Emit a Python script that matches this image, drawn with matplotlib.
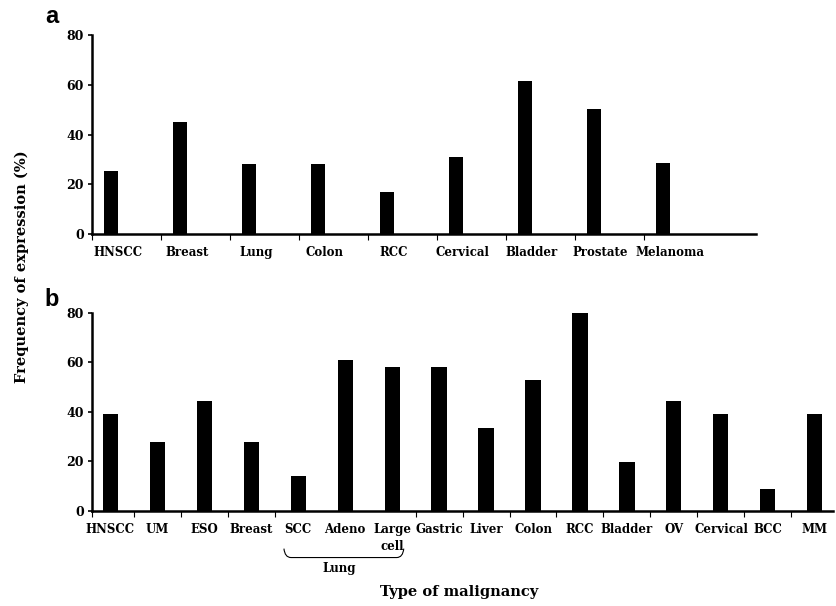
import matplotlib
matplotlib.use('Agg')
import matplotlib.pyplot as plt
import matplotlib.transforms as mtransforms
from matplotlib.path import Path
from matplotlib.patches import PathPatch

# panel a
cats_a = ['HNSCC', 'Breast', 'Lung', 'Colon', 'RCC', 'Cervical', 'Bladder', 'Prostate', 'Melanoma']
vals_a = [25.5, 45, 28.3, 28.3, 17, 31, 61.5, 50.5, 28.5]

# panel b
cats_b = ['HNSCC', 'UM', 'ESO', 'Breast', 'SCC', 'Adeno', 'Large\ncell', 'Gastric', 'Liver',
          'Colon', 'RCC', 'Bladder', 'OV', 'Cervical', 'BCC', 'MM']
vals_b = [39, 28, 44.5, 28, 14, 61, 58.3, 58.3, 33.5, 52.8, 80.5, 19.6, 44.6, 39, 9, 39]
lung_group = ['SCC', 'Adeno', 'Large\ncell']

yticks = [0, 20, 40, 60, 80]
serif = 'DejaVu Serif'

fig = plt.figure(figsize=(8.37, 6.06), dpi=100)


def style_axes(ax):
    ax.spines['top'].set_visible(False)
    ax.spines['right'].set_visible(False)
    ax.spines['left'].set_linewidth(1.8)
    ax.spines['bottom'].set_linewidth(1.8)
    ax.set_ylim(0, 80)
    ax.set_yticks(yticks)
    ax.set_yticklabels([str(t) for t in yticks], fontfamily=serif, fontweight='bold', fontsize=9)
    ax.tick_params(axis='y', length=3, width=1.2, pad=3)
    ax.tick_params(axis='x', which='major', length=4, width=0.8, pad=0)
    ax.tick_params(axis='x', which='minor', length=0, pad=9)


# ---- panel a ----
ax1 = fig.add_axes([0.110, 0.6139, 0.793, 0.328])
xa = list(range(len(cats_a)))
ax1.bar(xa, vals_a, width=0.2, color='black')
ax1.set_xlim(-0.275, 9.35)
style_axes(ax1)
ax1.set_xticks([i - 0.275 for i in xa])
ax1.set_xticklabels([])
ax1.set_xticks([i + 0.1 for i in xa], minor=True)
ax1.set_xticklabels(cats_a, minor=True, fontfamily=serif, fontweight='bold', fontsize=8.5)
fig.text(0.062, 0.972, 'a', fontsize=17, fontweight='bold', family='Liberation Sans',
         ha='center', va='center')

# ---- panel b ----
ax2 = fig.add_axes([0.110, 0.1568, 0.885, 0.327])
xb = list(range(len(cats_b)))
ax2.bar(xb, vals_b, width=0.32, color='black')
ax2.set_xlim(-0.383, 15.38)
style_axes(ax2)
lung_idx = [cats_b.index(c) for c in lung_group]
bounds = [-0.383] + [i + 0.5 for i in xb[:-1] if i not in lung_idx[:-1]]
ax2.set_xticks(bounds)
ax2.set_xticklabels([])
ax2.set_xticks(xb, minor=True)
ax2.set_xticklabels(cats_b, minor=True, fontfamily=serif, fontweight='bold', fontsize=8.5,
                    linespacing=1.35, va='top')
fig.text(0.062, 0.505, 'b', fontsize=17, fontweight='bold', family='Liberation Sans',
         ha='center', va='center')

# brace under the lung group
trans = mtransforms.blended_transform_factory(ax2.transData, ax2.transAxes)
x0, x1 = lung_idx[0] - 0.3, lung_idx[-1] + 0.25
ytop, ybot = -0.19, -0.235
verts = [(x0, ytop), (x0 + 0.02, ybot), (x0 + 0.15, ybot),
         (x1 - 0.15, ybot), (x1 - 0.02, ybot), (x1, ytop)]
codes = [Path.MOVETO, Path.CURVE3, Path.CURVE3, Path.LINETO, Path.CURVE3, Path.CURVE3]
ax2.add_patch(PathPatch(Path(verts, codes), transform=trans, fill=False, lw=0.8,
                        color='black', clip_on=False))
ax2.text((x0 + x1) / 2 - 0.1, -0.255, 'Lung', transform=trans, ha='center', va='top',
         fontfamily=serif, fontweight='bold', fontsize=8.5)

fig.text(0.548, 0.023, 'Type of malignancy', ha='center', va='center',
         fontfamily=serif, fontweight='bold', fontsize=10.5)
fig.text(0.026, 0.56, 'Frequency of expression (%)', rotation=90, ha='center', va='center',
         fontfamily=serif, fontweight='bold', fontsize=10.5)

fig.savefig('out.png', dpi=100)
